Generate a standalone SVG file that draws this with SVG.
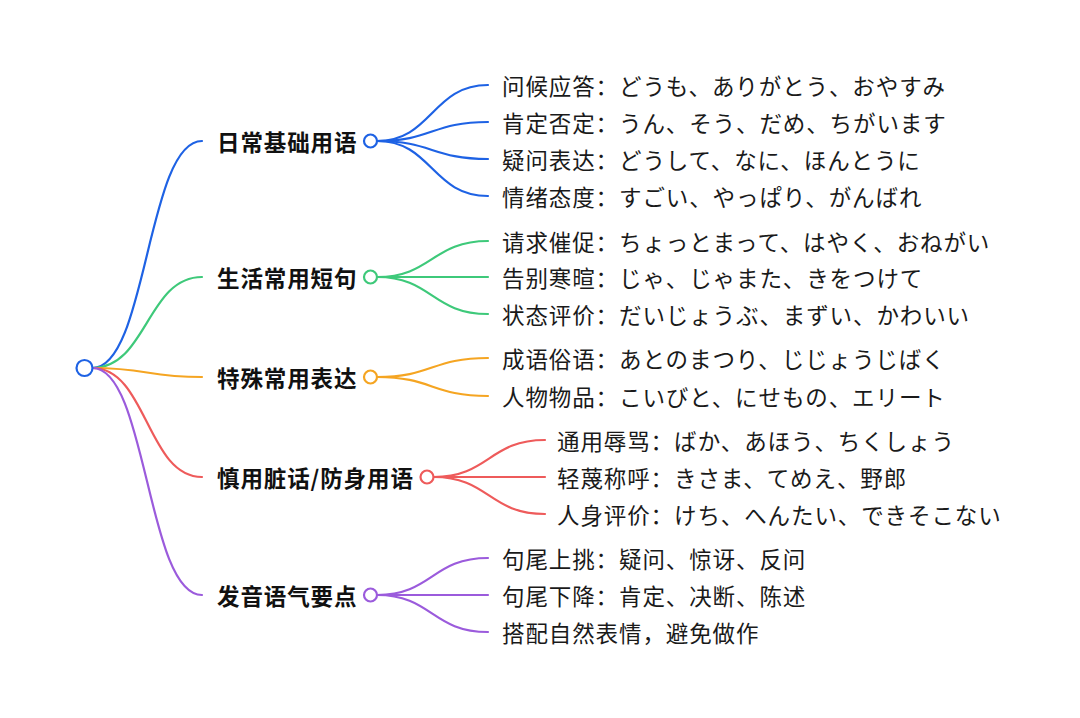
<svg xmlns="http://www.w3.org/2000/svg" width="1080" height="718" viewBox="0 0 1080 718">
<style>
.t{font-family:"Noto Sans CJK SC","Noto Sans CJK JP",sans-serif;font-size:22.5px;letter-spacing:0.9px;fill:#1a1a1a;dominant-baseline:central}
.b{font-weight:bold;fill:#111}
.c{fill:none;stroke-width:2.2;stroke-linecap:round}
.dot{fill:#fff;stroke-width:2.2}
.blue{stroke:#1e62e4}.green{stroke:#3ec97a}.orange{stroke:#f5a522}.red{stroke:#ee5b5b}.purple{stroke:#9b5bdc}
</style>
<rect width="1080" height="718" fill="#fff"/>
<g id="connectors">
<path class="c blue" d="M92.5 368 C147 368 147 141 202 141"/>
<path class="c green" d="M92.5 368 C147 368 147 277 202 277"/>
<path class="c orange" d="M92.5 368 C147 368 147 377 202 377"/>
<path class="c red" d="M92.5 368 C147 368 147 477 202 477"/>
<path class="c purple" d="M92.5 368 C147 368 147 595 202 595"/>
<path class="c blue" d="M377 141 C432 141 432 85 488 85"/>
<path class="c blue" d="M377 141 C432 141 432 122 488 122"/>
<path class="c blue" d="M377 141 C432 141 432 159 488 159"/>
<path class="c blue" d="M377 141 C432 141 432 196 488 196"/>
<path class="c green" d="M377 277 C432 277 432 241 488 241"/>
<path class="c green" d="M377 277 C432 277 432 277 488 277"/>
<path class="c green" d="M377 277 C432 277 432 314 488 314"/>
<path class="c orange" d="M377 377 C432 377 432 358 488 358"/>
<path class="c orange" d="M377 377 C432 377 432 396 488 396"/>
<path class="c red" d="M433.5 477 C489 477 489 440 545 440"/>
<path class="c red" d="M433.5 477 C489 477 489 477 545 477"/>
<path class="c red" d="M433.5 477 C489 477 489 514 545 514"/>
<path class="c purple" d="M377 595 C432 595 432 558 488 558"/>
<path class="c purple" d="M377 595 C432 595 432 595 488 595"/>
<path class="c purple" d="M377 595 C432 595 432 632 488 632"/>
</g>
<g id="root"><circle class="dot blue" cx="84.5" cy="368" r="8" stroke-width="2.5"/></g>
<g id="b1"><text class="t b" x="217" y="141">日常基础用语</text><circle class="dot blue" cx="370.5" cy="141" r="6.5"/></g>
<g id="b2"><text class="t b" x="217" y="277">生活常用短句</text><circle class="dot green" cx="370.5" cy="277" r="6.5"/></g>
<g id="b3"><text class="t b" x="217" y="377">特殊常用表达</text><circle class="dot orange" cx="370.5" cy="377" r="6.5"/></g>
<g id="b4"><text class="t b" x="217" y="477">慎用脏话/防身用语</text><circle class="dot red" cx="427" cy="477" r="6.5"/></g>
<g id="b5"><text class="t b" x="217" y="595">发音语气要点</text><circle class="dot purple" cx="370.5" cy="595" r="6.5"/></g>
<g id="l1"><text class="t" x="502" y="85">问候应答：どうも、ありがとう、おやすみ</text></g>
<g id="l2"><text class="t" x="502" y="122">肯定否定：うん、そう、だめ、ちがいます</text></g>
<g id="l3"><text class="t" x="502" y="159">疑问表达：どうして、なに、ほんとうに</text></g>
<g id="l4"><text class="t" x="502" y="196">情绪态度：すごい、やっぱり、がんばれ</text></g>
<g id="l5"><text class="t" x="502" y="241">请求催促：ちょっとまって、はやく、おねがい</text></g>
<g id="l6"><text class="t" x="502" y="277">告别寒暄：じゃ、じゃまた、きをつけて</text></g>
<g id="l7"><text class="t" x="502" y="314">状态评价：だいじょうぶ、まずい、かわいい</text></g>
<g id="l8"><text class="t" x="502" y="358">成语俗语：あとのまつり、じじょうじばく</text></g>
<g id="l9"><text class="t" x="502" y="396">人物物品：こいびと、にせもの、エリート</text></g>
<g id="l10"><text class="t" x="557" y="440">通用辱骂：ばか、あほう、ちくしょう</text></g>
<g id="l11"><text class="t" x="557" y="477">轻蔑称呼：きさま、てめえ、野郎</text></g>
<g id="l12"><text class="t" x="557" y="514">人身评价：けち、へんたい、できそこない</text></g>
<g id="l13"><text class="t" x="502" y="558">句尾上挑：疑问、惊讶、反问</text></g>
<g id="l14"><text class="t" x="502" y="595">句尾下降：肯定、决断、陈述</text></g>
<g id="l15"><text class="t" x="502" y="632">搭配自然表情，避免做作</text></g>
</svg>
